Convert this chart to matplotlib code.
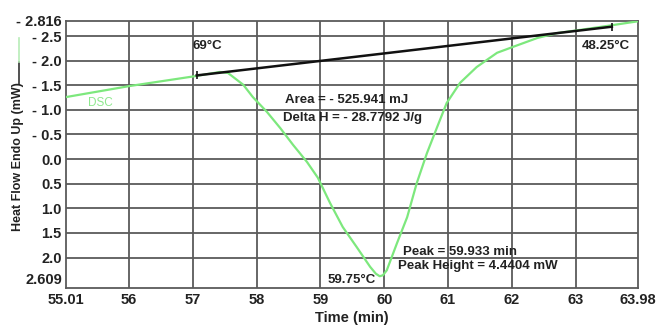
import matplotlib
matplotlib.use("Agg")
import matplotlib.pyplot as plt
from matplotlib.lines import Line2D

# DSC curve (time in min, heat flow in mW; axis drawn inverted)
dsc_time = [55.01, 56.01, 57.06, 57.42, 57.55, 57.63, 57.79, 57.94, 58.16, 58.37,
            58.57, 58.79, 58.96, 59.15, 59.35, 59.57, 59.78, 59.87, 59.93, 59.98,
            60.04, 60.20, 60.36, 60.51, 60.67, 60.83, 60.98, 61.19, 61.45, 61.77,
            62.02, 62.40, 62.71, 63.10, 63.57, 63.98]
dsc_flow = [-1.26, -1.485, -1.69, -1.77, -1.75, -1.67, -1.51, -1.26, -0.96, -0.63,
            -0.29, 0.06, 0.38, 0.89, 1.38, 1.79, 2.19, 2.33, 2.38, 2.36,
            2.26, 1.71, 1.18, 0.49, -0.12, -0.65, -1.14, -1.55, -1.87, -2.16,
            -2.28, -2.46, -2.56, -2.63, -2.72, -2.80]

# integration baseline
base_time = [57.06, 63.57]
base_flow = [-1.70, -2.69]

x_ticks = [55.01, 56, 57, 58, 59, 60, 61, 62, 63, 63.98]
x_labels = ["55.01", "56", "57", "58", "59", "60", "61", "62", "63", "63.98"]
y_ticks = [-2.816, -2.5, -2.0, -1.5, -1.0, -0.5, 0.0, 0.5, 1.0, 1.5, 2.0, 2.609]
y_labels = ["- 2.816", "- 2.5", "- 2.0", "- 1.5", "- 1.0", "- 0.5", "0.0", "0.5",
            "1.0", "1.5", "2.0", "2.609"]

plt.rcParams['font.family'] = ['Liberation Sans', 'DejaVu Sans']

fig = plt.figure(figsize=(6.57, 3.27), dpi=100)
ax = fig.add_axes([66/657, 1-287.5/327, (638-66)/657, (287.5-20.5)/327])

ax.set_xlim(55.01, 63.98)
ax.set_ylim(2.609, -2.816)

grid_c = '#5a5a5a'
for xv in x_ticks[1:-1]:
    ax.axvline(xv, color=grid_c, lw=1.3, zorder=1)
for yv in y_ticks[1:-1]:
    ax.axhline(yv, color=grid_c, lw=1.3, zorder=1)
for sp in ax.spines.values():
    sp.set_color(grid_c)
    sp.set_linewidth(1.3)

ax.set_xticks(x_ticks)
ax.set_xticklabels(x_labels)
ax.set_yticks(y_ticks)
ax.set_yticklabels(y_labels)
ax.tick_params(length=0, labelsize=10.5, colors='#222222', pad=3)
ax.tick_params(axis='x', pad=4)
for lab in ax.get_xticklabels() + ax.get_yticklabels():
    lab.set_fontweight('bold')
ylabs = ax.get_yticklabels()
ylabs[-1].set_verticalalignment('bottom')
ylabs[0].set_verticalalignment('center_baseline')

ax.plot(dsc_time, dsc_flow, color='#7de87d', lw=1.6, zorder=3,
        solid_joinstyle='round')
ax.plot(base_time, base_flow, color='#111111', lw=1.8, zorder=4)
ax.plot(base_time, base_flow, ls='none', marker='|', ms=6, mew=1.2, color='#111111', zorder=4)

tc = '#222222'
fs = 9.5
ax.text(56.99, -2.30, "69°C", fontsize=fs, fontweight='bold', color=tc, ha='left', va='center')
ax.text(63.85, -2.30, "48.25°C", fontsize=fs, fontweight='bold', color=tc, ha='right', va='center')
ax.text(58.44, -1.20, "Area = - 525.941 mJ", fontsize=fs, fontweight='bold', color=tc, ha='left', va='center')
ax.text(58.41, -0.83, "Delta H = - 28.7792 J/g", fontsize=fs, fontweight='bold', color=tc, ha='left', va='center')
ax.text(60.29, 1.89, "Peak = 59.933 min", fontsize=fs, fontweight='bold', color=tc, ha='left', va='center')
ax.text(60.22, 2.17, "Peak Height = 4.4404 mW", fontsize=fs, fontweight='bold', color=tc, ha='left', va='center')
ax.text(59.87, 2.45, "59.75°C", fontsize=fs, fontweight='bold', color=tc, ha='right', va='center')
ax.text(55.36, -1.14, "DSC", fontsize=8.5, color='#8ee88e', ha='left', va='center')

ax.set_xlabel("Time (min)", fontsize=10.5, fontweight='bold', color=tc, labelpad=3)

fig.text(18/657, 1-157/327, "Heat Flow Endo Up (mW)", rotation=90, fontsize=9,
         fontweight='bold', color=tc, ha='center', va='center')
fig.add_artist(Line2D([19/657, 19/657], [1-84/327, 1-62/327], color='#333333', lw=1.2))
fig.add_artist(Line2D([19/657, 19/657], [1-62/327, 1-38/327], color='#b8ecb8', lw=1.2))

fig.savefig("out.png", dpi=100)
